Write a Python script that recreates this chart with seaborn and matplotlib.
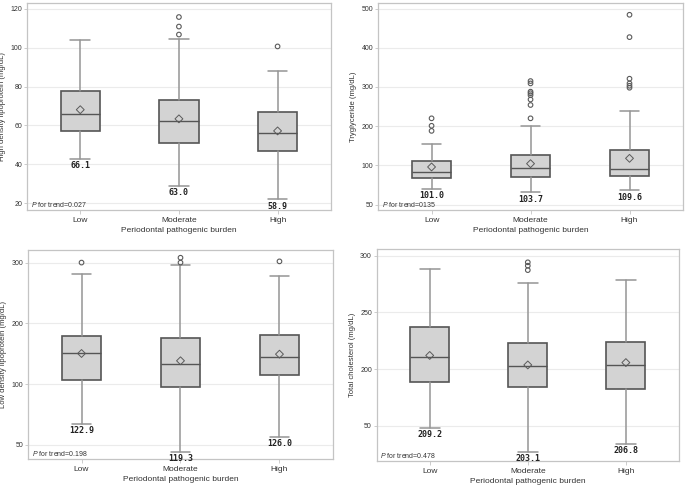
import numpy as np
import pandas as pd
import matplotlib
matplotlib.use("Agg")
import matplotlib.pyplot as plt
import seaborn as sns

# ---------------- data ----------------
categories = ["Low", "Moderate", "High"]
x_title = "Periodontal pathogenic burden"

hdl_whislo = [43.0, 29.0, 22.0]
hdl_q1 = [56.9, 51.0, 46.9]
hdl_med = [65.8, 62.2, 56.2]
hdl_q3 = [77.7, 72.9, 66.8]
hdl_whishi = [103.7, 104.5, 87.9]
hdl_mean = [68.1, 63.4, 57.2]
hdl_outliers = [[], [115.7, 110.8, 106.7], [100.6]]
hdl_labels = ["66.1", "63.0", "58.9"]
hdl_ticks = [20, 40, 60, 80, 100, 120]
hdl_ticklabels = ["20", "40", "60", "80", "100", "120"]
hdl_ylabel = "High density lipoprotein (mg/dL)"
hdl_ptext = "0.027"

tg_whislo = [40.0, 31.0, 36.0]
tg_q1 = [67.0, 70.0, 74.0]
tg_med = [84.0, 92.5, 90.0]
tg_q3 = [110.0, 127.0, 139.0]
tg_whishi = [155.0, 201.0, 238.0]
tg_mean = [96.0, 104.4, 118.0]
tg_outliers = [[220, 201, 188],
               [315, 309, 288, 284, 279, 268, 254, 220],
               [484, 427, 321, 309, 303, 298]]
tg_labels = ["101.0", "103.7", "109.6"]
tg_ticks = [0, 100, 200, 300, 400, 500]
tg_ticklabels = ["50", "100", "200", "300", "400", "500"]
tg_ylabel = "Tryglyceride (mg/dL)"
tg_ptext = "0135"

ldl_whislo = [34.5, -11.5, 13.7]
ldl_q1 = [106.7, 95.0, 114.4]
ldl_med = [150.5, 134.0, 144.5]
ldl_q3 = [180.0, 175.7, 181.0]
ldl_whishi = [282.0, 296.7, 278.6]
ldl_mean = [150.5, 138.5, 149.4]
ldl_outliers = [[300], [308, 300], [302]]
ldl_labels = ["122.9", "119.3", "126.0"]
ldl_ticks = [0, 100, 200, 300]
ldl_ticklabels = ["50", "100", "200", "300"]
ldl_ylabel = "Low density lipoprotein (mg/dL)"
ldl_ptext = "0.198"

tc_whislo = [148.0, 126.6, 133.4]
tc_q1 = [188.5, 183.8, 182.3]
tc_med = [210.8, 202.8, 203.6]
tc_q3 = [237.4, 222.6, 223.8]
tc_whishi = [288.4, 275.7, 279.0]
tc_mean = [212.0, 203.6, 205.7]
tc_outliers = [[], [294.4, 291.4, 287.5], []]
tc_labels = ["209.2", "203.1", "206.8"]
tc_ticks = [150, 200, 250, 300]
tc_ticklabels = ["50", "200", "250", "300"]
tc_ylabel = "Total cholesterol (mg/dL)"
tc_ptext = "0.478"

# ---------------- style ----------------
sns.set_style("white")
plt.rcParams["font.family"] = ["Liberation Sans", "DejaVu Sans"]
plt.rcParams["mathtext.fontset"] = "custom"
plt.rcParams["mathtext.it"] = "Liberation Sans:italic"
plt.rcParams["mathtext.rm"] = "Liberation Sans"

FRAME = "#c4c4c4"
GRID = "#ebebeb"
BOXFILL = "#d3d3d3"
BOXEDGE = "#555555"
WHISK = "#959595"
MARK = "#5a5a5a"
TXT = "#333333"

fig = plt.figure(figsize=(6.85, 4.86), dpi=100)

panels = [
    dict(pos=[0.0394, 0.568, 0.4436, 0.4258], whislo=hdl_whislo, q1=hdl_q1, med=hdl_med,
         q3=hdl_q3, whishi=hdl_whishi, mean=hdl_mean, out=hdl_outliers, lab=hdl_labels,
         ticks=hdl_ticks, tlab=hdl_ticklabels, ylabel=hdl_ylabel, p=hdl_ptext,
         ylim=(16.6, 122.9)),
    dict(pos=[0.552, 0.568, 0.445, 0.4258], whislo=tg_whislo, q1=tg_q1, med=tg_med,
         q3=tg_q3, whishi=tg_whishi, mean=tg_mean, out=tg_outliers, lab=tg_labels,
         ticks=tg_ticks, tlab=tg_ticklabels, ylabel=tg_ylabel, p=tg_ptext,
         ylim=(-13.6, 514)),
    dict(pos=[0.041, 0.0556, 0.445, 0.430], whislo=ldl_whislo, q1=ldl_q1, med=ldl_med,
         q3=ldl_q3, whishi=ldl_whishi, mean=ldl_mean, out=ldl_outliers, lab=ldl_labels,
         ticks=ldl_ticks, tlab=ldl_ticklabels, ylabel=ldl_ylabel, p=ldl_ptext,
         ylim=(-23, 320.7)),
    dict(pos=[0.550, 0.0514, 0.441, 0.4363], whislo=tc_whislo, q1=tc_q1, med=tc_med,
         q3=tc_q3, whishi=tc_whishi, mean=tc_mean, out=tc_outliers, lab=tc_labels,
         ticks=tc_ticks, tlab=tc_ticklabels, ylabel=tc_ylabel, p=tc_ptext,
         ylim=(118.6, 306.2)),
]

for pn in panels:
    ax = fig.add_axes(pn["pos"])
    ax.set_axisbelow(True)
    for y in pn["ticks"]:
        ax.axhline(y, color=GRID, lw=0.8, zorder=0)

    stats = []
    for i, c in enumerate(categories):
        stats.append(dict(label=c, whislo=pn["whislo"][i], q1=pn["q1"][i], med=pn["med"][i],
                          q3=pn["q3"][i], whishi=pn["whishi"][i], fliers=[]))
    ax.bxp(stats, positions=list(range(len(categories))), widths=0.4,
           patch_artist=True, showfliers=False, manage_ticks=False,
           boxprops=dict(facecolor=BOXFILL, edgecolor=BOXEDGE, linewidth=1.2),
           medianprops=dict(color=BOXEDGE, linewidth=1.0),
           whiskerprops=dict(color=WHISK, linewidth=1.1),
           capprops=dict(color=WHISK, linewidth=1.1))

    # outliers
    ox, oy = [], []
    for i, vals in enumerate(pn["out"]):
        ox += [i] * len(vals)
        oy += list(vals)
    odf = pd.DataFrame({"x": ox, "y": oy})
    if len(odf):
        sns.scatterplot(data=odf, x="x", y="y", ax=ax, marker="o", s=11,
                        facecolors="none", edgecolor=MARK, linewidth=0.8, zorder=4)
    # means
    mdf = pd.DataFrame({"x": list(range(len(categories))), "y": pn["mean"]})
    sns.scatterplot(data=mdf, x="x", y="y", ax=ax, marker="D", s=16,
                    facecolors="none", edgecolor=MARK, linewidth=0.7, zorder=5)
    for coll in ax.collections:
        coll.set_facecolor("none")

    # value labels under the lower whisker
    for i, t in enumerate(pn["lab"]):
        ax.annotate(t, xy=(i, pn["whislo"][i]), xytext=(0, -1.5), textcoords="offset points",
                    ha="center", va="top", fontsize=6, fontweight="bold",
                    family="DejaVu Sans Mono", color="#222222")

    ax.text(0.012, 0.006, r"$\it{P}$ for trend=" + pn["p"], transform=ax.transAxes,
            ha="left", va="bottom", fontsize=5, color=TXT)

    ax.set_xlim(-0.54, 2.54)
    ax.set_ylim(*pn["ylim"])
    ax.set_xticks(range(len(categories)))
    ax.set_xticklabels(categories)
    ax.set_yticks(pn["ticks"])
    ax.set_yticklabels(pn["tlab"])
    ax.tick_params(axis="x", labelsize=6, colors=TXT, length=3, width=0.6, color=FRAME, pad=2)
    ax.tick_params(axis="y", labelsize=5, colors=TXT, length=2.5, width=0.6, color=FRAME, pad=1)
    ax.tick_params(axis="both", which="both", left=True, bottom=True)
    ax.set_xlabel(x_title, fontsize=6, color=TXT, labelpad=2)
    ax.set_ylabel(pn["ylabel"], fontsize=5.5, color=TXT, labelpad=3)
    for s in ax.spines.values():
        s.set_color(FRAME)
        s.set_linewidth(0.9)

fig.savefig("out.png", dpi=100)
